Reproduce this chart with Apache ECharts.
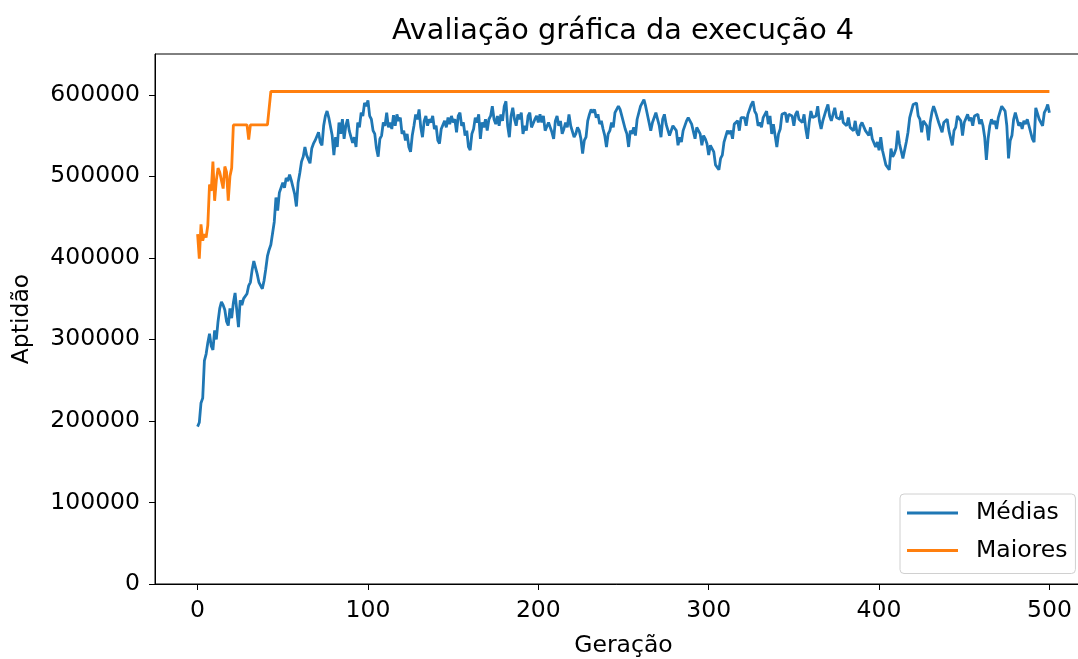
<!DOCTYPE html>
<html>
<head>
<meta charset="utf-8">
<script src="https://cdn.jsdelivr.net/npm/echarts@6/dist/echarts.min.js"></script>
<style>html,body{margin:0;padding:0;background:#fff;overflow:hidden;}#chart{width:1078px;height:659px;}</style>
</head>
<body>
<div id="chart"></div>
<script>
const titleText = 'Avaliação gráfica da execução 4';
const xName = 'Geração';
const yName = 'Aptidão';
const seriesNames = ['Médias', 'Maiores'];
const xTicks = [0, 100, 200, 300, 400, 500];
const yTicks = [0, 100000, 200000, 300000, 400000, 500000, 600000];

const medias = [
193000,198000,222000,228000,274000,282000,296000,307000,292000,287000,
311000,300000,322000,338000,346000,342000,336000,322000,317000,338000,
326000,345000,357000,336000,315000,348000,342000,350000,348000,356000,
366000,370000,385000,396000,388000,380000,370000,366000,362000,372000,
386000,402000,410000,416000,418000,444000,474000,458000,480000,478000,
492000,486000,498000,494000,502000,495000,496000,478000,463000,492000,
504000,518000,524000,536000,526000,528000,516000,534000,540000,544000,
546000,554000,542000,538000,562000,574000,580000,572000,574000,550000,
526000,548000,536000,566000,552000,570000,546000,562000,570000,556000,
558000,541000,548000,536000,566000,560000,578000,574000,590000,586000,
593000,574000,570000,556000,552000,534000,524000,546000,550000,566000,
562000,578000,560000,566000,558000,575000,562000,576000,568000,572000,
552000,556000,544000,552000,536000,530000,550000,562000,576000,570000,
582000,560000,548000,568000,574000,562000,570000,566000,574000,558000,
562000,544000,540000,558000,556000,568000,560000,572000,564000,574000,
566000,570000,554000,574000,578000,562000,566000,550000,556000,536000,
532000,552000,558000,572000,566000,576000,546000,566000,560000,570000,
556000,570000,574000,586000,570000,564000,574000,562000,576000,568000,
586000,592000,562000,548000,574000,584000,570000,562000,576000,570000,
578000,552000,562000,556000,574000,578000,560000,558000,570000,574000,
566000,576000,566000,574000,556000,554000,566000,560000,554000,546000,
568000,574000,562000,568000,552000,558000,566000,560000,576000,562000,
560000,548000,552000,560000,556000,546000,528000,544000,548000,568000,
576000,582000,578000,582000,572000,576000,564000,568000,558000,550000,
536000,552000,556000,566000,560000,578000,576000,586000,582000,574000,
572000,558000,552000,536000,556000,552000,560000,550000,570000,572000,
586000,588000,594000,586000,588000,566000,556000,566000,566000,578000,
580000,562000,548000,570000,576000,564000,566000,550000,552000,562000,
562000,556000,538000,548000,542000,556000,554000,568000,572000,574000,
564000,562000,546000,560000,558000,552000,538000,550000,546000,540000,
526000,538000,536000,530000,514000,514000,508000,522000,526000,542000,
542000,556000,552000,556000,546000,564000,566000,568000,556000,572000,
570000,572000,562000,576000,574000,588000,592000,580000,576000,562000,
566000,560000,572000,570000,580000,564000,574000,552000,564000,566000,
536000,552000,558000,576000,578000,578000,566000,576000,574000,574000,
562000,576000,580000,570000,568000,566000,576000,558000,546000,566000,
580000,572000,572000,574000,586000,568000,558000,568000,568000,582000,
588000,574000,568000,570000,584000,572000,572000,570000,580000,566000,
568000,562000,572000,560000,560000,556000,568000,554000,550000,562000,
566000,568000,556000,556000,550000,560000,546000,546000,536000,542000,
532000,548000,532000,530000,514000,514000,508000,534000,524000,528000,
534000,556000,540000,540000,522000,520000,542000,554000,572000,574000,
588000,586000,590000,574000,570000,554000,568000,570000,562000,544000,
566000,578000,586000,580000,580000,566000,566000,554000,566000,564000,
570000,556000,554000,538000,556000,560000,574000,572000,568000,550000,
566000,564000,576000,568000,572000,562000,574000,572000,576000,564000,
570000,562000,548000,520000,546000,562000,570000,564000,568000,558000,
572000,574000,586000,586000,580000,562000,522000,544000,550000,570000,
578000,576000,562000,566000,558000,568000,564000,570000,562000,560000,
546000,542000,584000,582000,570000,572000,562000,578000,582000,588000,
578000
];

const maiores = [
429000,399000,441000,421000,429000,425000,440000,490000,482000,518000,
470000,495000,510000,505000,495000,485000,512000,505000,470000,500000,
510000,563000,563000,563000,563000,563000,563000,563000,563000,563000,
545000,563000,563000,563000,563000,563000,563000,563000,563000,563000,
563000,563000,563000,604000,604000,604000,604000,604000,604000,604000,
604000,604000,604000,604000,604000,604000,604000,604000,604000,604000,
604000,604000,604000,604000,604000,604000,604000,604000,604000,604000,
604000,604000,604000,604000,604000,604000,604000,604000,604000,604000,
604000,604000,604000,604000,604000,604000,604000,604000,604000,604000,
604000,604000,604000,604000,604000,604000,604000,604000,604000,604000,
604000,604000,604000,604000,604000,604000,604000,604000,604000,604000,
604000,604000,604000,604000,604000,604000,604000,604000,604000,604000,
604000,604000,604000,604000,604000,604000,604000,604000,604000,604000,
604000,604000,604000,604000,604000,604000,604000,604000,604000,604000,
604000,604000,604000,604000,604000,604000,604000,604000,604000,604000,
604000,604000,604000,604000,604000,604000,604000,604000,604000,604000,
604000,604000,604000,604000,604000,604000,604000,604000,604000,604000,
604000,604000,604000,604000,604000,604000,604000,604000,604000,604000,
604000,604000,604000,604000,604000,604000,604000,604000,604000,604000,
604000,604000,604000,604000,604000,604000,604000,604000,604000,604000,
604000,604000,604000,604000,604000,604000,604000,604000,604000,604000,
604000,604000,604000,604000,604000,604000,604000,604000,604000,604000,
604000,604000,604000,604000,604000,604000,604000,604000,604000,604000,
604000,604000,604000,604000,604000,604000,604000,604000,604000,604000,
604000,604000,604000,604000,604000,604000,604000,604000,604000,604000,
604000,604000,604000,604000,604000,604000,604000,604000,604000,604000,
604000,604000,604000,604000,604000,604000,604000,604000,604000,604000,
604000,604000,604000,604000,604000,604000,604000,604000,604000,604000,
604000,604000,604000,604000,604000,604000,604000,604000,604000,604000,
604000,604000,604000,604000,604000,604000,604000,604000,604000,604000,
604000,604000,604000,604000,604000,604000,604000,604000,604000,604000,
604000,604000,604000,604000,604000,604000,604000,604000,604000,604000,
604000,604000,604000,604000,604000,604000,604000,604000,604000,604000,
604000,604000,604000,604000,604000,604000,604000,604000,604000,604000,
604000,604000,604000,604000,604000,604000,604000,604000,604000,604000,
604000,604000,604000,604000,604000,604000,604000,604000,604000,604000,
604000,604000,604000,604000,604000,604000,604000,604000,604000,604000,
604000,604000,604000,604000,604000,604000,604000,604000,604000,604000,
604000,604000,604000,604000,604000,604000,604000,604000,604000,604000,
604000,604000,604000,604000,604000,604000,604000,604000,604000,604000,
604000,604000,604000,604000,604000,604000,604000,604000,604000,604000,
604000,604000,604000,604000,604000,604000,604000,604000,604000,604000,
604000,604000,604000,604000,604000,604000,604000,604000,604000,604000,
604000,604000,604000,604000,604000,604000,604000,604000,604000,604000,
604000,604000,604000,604000,604000,604000,604000,604000,604000,604000,
604000,604000,604000,604000,604000,604000,604000,604000,604000,604000,
604000,604000,604000,604000,604000,604000,604000,604000,604000,604000,
604000,604000,604000,604000,604000,604000,604000,604000,604000,604000,
604000,604000,604000,604000,604000,604000,604000,604000,604000,604000,
604000,604000,604000,604000,604000,604000,604000,604000,604000,604000,
604000
];

const FONT = 'DejaVu Sans';
const FS = 23.5;
const chart = echarts.init(document.getElementById('chart'), null, {renderer: 'canvas'});
chart.setOption({
  animation: false,
  backgroundColor: '#ffffff',
  title: {
    text: titleText,
    left: 618, top: 12, textAlign: 'center',
    textStyle: {fontFamily: FONT, fontSize: 28.7, fontWeight: 'normal', color: '#000'}
  },
  grid: {
    left: 155, top: 54, width: 937, height: 530,
    outerBoundsMode: 'none',
    containLabel: false,
    show: true, borderColor: '#000', borderWidth: 1, backgroundColor: 'transparent'
  },
  legend: {
    orient: 'vertical',
    left: 900, top: 494,
    data: seriesNames,
    icon: 'rect',
    itemWidth: 51, itemHeight: 3,
    itemGap: 13.5,
    padding: [7, 8, 11, 7],
    backgroundColor: 'rgba(255,255,255,0.8)',
    borderColor: '#d0d0d0', borderWidth: 1, borderRadius: 4,
    textStyle: {fontFamily: FONT, fontSize: FS, color: '#000', padding: [0, 0, 0, 13]}
  },
  xAxis: {
    type: 'value', min: -25, max: 525,
    name: xName, nameLocation: 'middle', nameGap: 50,
    nameTextStyle: {fontFamily: FONT, fontSize: FS, color: '#000'},
    axisLine: {show: true, onZero: false, lineStyle: {color: '#000', width: 1}},
    axisTick: {show: true, length: 6, customValues: xTicks, lineStyle: {color: '#000'}},
    axisLabel: {customValues: xTicks, margin: 15, fontFamily: FONT, fontSize: FS, color: '#000',
      formatter: v => String(v)},
    splitLine: {show: false}
  },
  yAxis: {
    type: 'value', min: 0, max: 650000,
    name: yName, nameLocation: 'middle', nameGap: 121,
    nameTextStyle: {fontFamily: FONT, fontSize: FS, color: '#000'},
    axisLine: {show: true, onZero: false, lineStyle: {color: '#000', width: 1}},
    axisTick: {show: true, length: 6, customValues: yTicks, lineStyle: {color: '#000'}},
    axisLabel: {customValues: yTicks, margin: 15, fontFamily: FONT, fontSize: FS, color: '#000',
      formatter: v => String(v)},
    splitLine: {show: false}
  },
  series: [
    {
      name: seriesNames[0], type: 'line', showSymbol: false,
      color: '#1f77b4',
      lineStyle: {width: 2.8, color: '#1f77b4'},
      data: medias.map((v, i) => [i, v]),
      z: 2
    },
    {
      name: seriesNames[1], type: 'line', showSymbol: false,
      color: '#ff7f0e',
      lineStyle: {width: 2.8, color: '#ff7f0e'},
      data: maiores.map((v, i) => [i, v]),
      z: 3
    }
  ]
});
</script>
</body>
</html>
